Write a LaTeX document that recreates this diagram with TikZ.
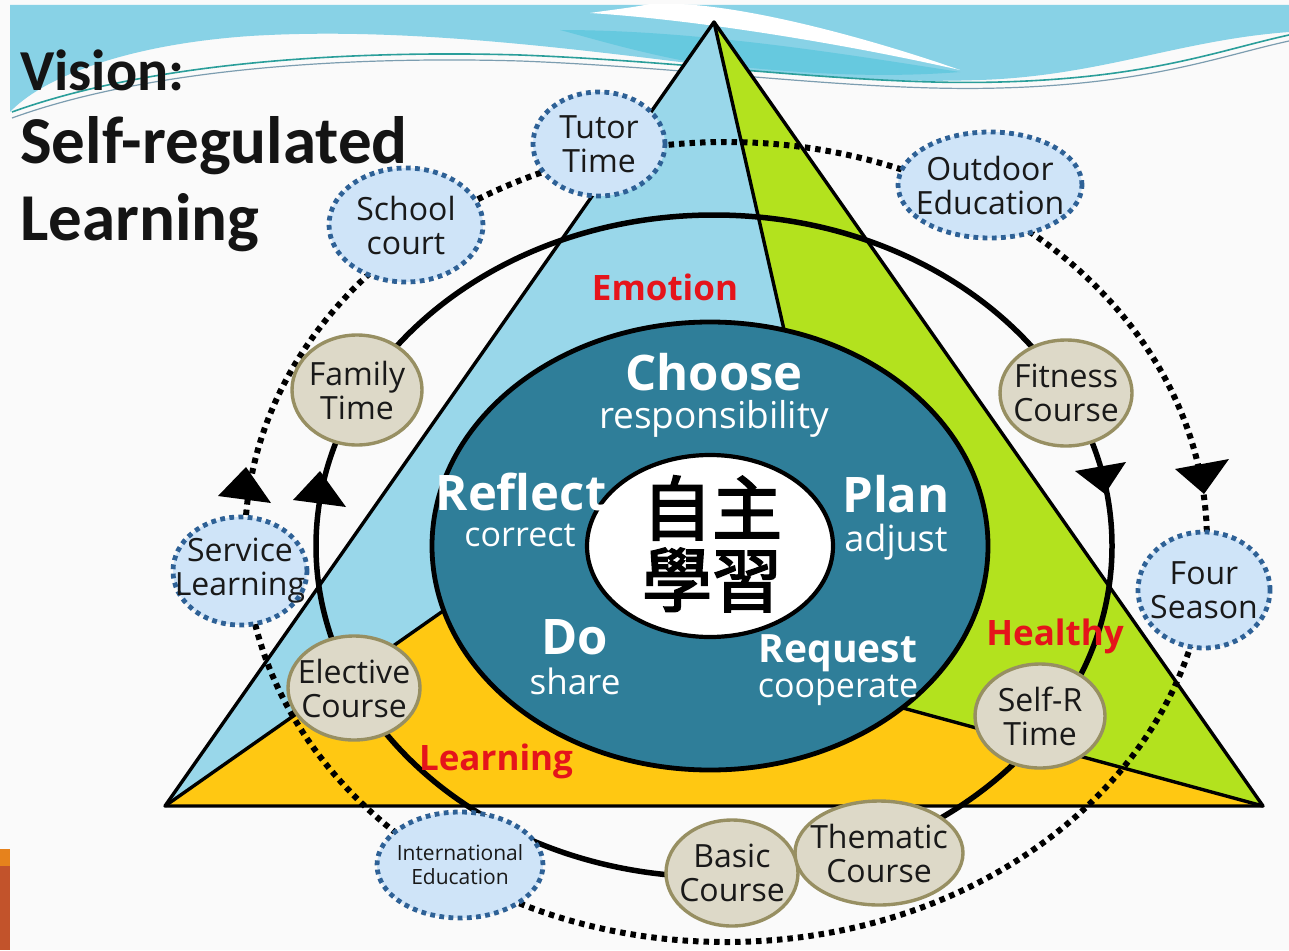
\documentclass[tikz,border=0pt]{standalone}
\usepackage{fontspec}
\setmainfont{Open Sans}
\newfontfamily\titlefont{Carlito}
\newfontfamily\cjkfont[FakeBold=2.6]{Noto Sans CJK TC}
\usetikzlibrary{shapes.geometric}
\definecolor{bgwhite}{HTML}{FAFAFA}
\definecolor{waveblue}{HTML}{88D2E6}
\definecolor{wavecyan}{HTML}{66C9DF}
\definecolor{waveline}{HTML}{2A9E9A}
\definecolor{wavegrey}{HTML}{7C9DB0}
\definecolor{triblue}{HTML}{99D7EA}
\definecolor{trigreen}{HTML}{B3E21E}
\definecolor{triyellow}{HTML}{FFC812}
\definecolor{darkteal}{HTML}{2F7E99}
\definecolor{nodeblue}{HTML}{CFE4F8}
\definecolor{dotblue}{HTML}{2E6196}
\definecolor{beige}{HTML}{DDD9C8}
\definecolor{olive}{HTML}{978F62}
\definecolor{redtxt}{HTML}{E5141B}
\definecolor{orangebar}{HTML}{E6821C}
\definecolor{brownbar}{HTML}{C2532B}
\begin{document}
\begin{tikzpicture}[x=1pt,y=-1pt,
  bluenode/.style={ellipse, fill=nodeblue, draw=dotblue, line width=4.8pt,
    dash pattern=on 4.8pt off 4.4pt, inner sep=0pt},
  beigenode/.style={ellipse, fill=beige, draw=olive, line width=3.4pt, inner sep=0pt},
  nodetext/.style={align=center, font=\fontsize{32}{34}\selectfont, text=black!90, inner sep=0pt},
  smalltext/.style={align=center, font=\fontsize{21}{24}\selectfont, text=black!90, inner sep=0pt},
  bigwhite/.style={anchor=base, text=white, font=\bfseries\fontsize{49}{50}\selectfont, inner sep=0pt},
  subwhite/.style={anchor=base, text=white, font=\fontsize{34}{36}\selectfont, inner sep=0pt},
  redlabel/.style={anchor=base, text=redtxt, font=\bfseries\fontsize{35}{36}\selectfont, inner sep=0pt},
  titletext/.style={anchor=base west, font=\titlefont\bfseries\fontsize{67}{70}\selectfont, text=black!92, inner sep=0pt},
  cjktext/.style={font=\cjkfont\fontsize{70}{72}\selectfont, inner sep=0pt},
  loopline/.style={line width=5.5pt, black},
  dotloop/.style={line width=6pt, black, dash pattern=on 5.5pt off 5pt},
  edge/.style={line width=3.4pt, black, line join=round}
]
\useasboundingbox (0,0) rectangle (1289,950);
\fill[bgwhite] (0,0) rectangle (1289,950);
% decorative waves
\fill[waveblue] (10,5) -- (1289,5) -- (1289,32) .. controls (1180,40) and (1100,76) .. (980,80)
  .. controls (860,84) and (760,72) .. (680,62) .. controls (520,42) and (380,28) .. (250,36)
  .. controls (120,45) and (40,80) .. (10,112) -- cycle;
\fill[wavecyan] (560,30) .. controls (700,30) and (850,55) .. (960,72)
  .. controls (860,80) and (760,70) .. (680,60) .. controls (630,50) and (590,38) .. (560,30) -- cycle;
\fill[white] (590,13) .. controls (700,20) and (850,45) .. (960,70)
  .. controls (880,42) and (760,8) .. (680,4) -- (650,4) .. controls (630,8) and (610,10) .. (590,13) -- cycle;
\draw[waveline, line width=1.6pt] (12,112) .. controls (150,62) and (350,50) .. (520,55)
  .. controls (700,62) and (860,86) .. (1000,82) .. controls (1150,78) and (1220,50) .. (1289,35);
\draw[wavegrey, line width=1.2pt] (12,118) .. controls (150,68) and (350,56) .. (520,61)
  .. controls (700,68) and (860,92) .. (1000,88) .. controls (1150,84) and (1220,56) .. (1289,41);
% frame bar
\fill[orangebar] (0,849) rectangle (10,866);
\fill[brownbar] (0,866) rectangle (10,950);
% triangle
\coordinate (apex) at (714,22);
\coordinate (bl) at (165,806);
\coordinate (br) at (1263,806);
\coordinate (ctr) at (710,546);
\coordinate (gin) at (800,400);
\coordinate (yin) at (520,557);
\coordinate (rin) at (800,680);
\fill[triblue] (apex) -- (bl) -- (br) -- cycle;
\fill[trigreen] (apex) -- (gin) -- (ctr) -- (rin) -- (br) -- cycle;
\fill[triyellow] (bl) -- (yin) -- (ctr) -- (rin) -- (br) -- cycle;
\draw[edge] (apex) -- (gin);
\draw[edge] (bl) -- (yin);
\draw[edge] (br) -- (rin);
\draw[edge] (apex) -- (bl) -- (br) -- cycle;
% inner discs
\filldraw[fill=darkteal, draw=black, line width=4.8pt] (ctr) ellipse [x radius=278pt, y radius=224pt];
\filldraw[fill=white, draw=black, line width=4.2pt] (710,546) ellipse [x radius=123pt, y radius=91pt];
% loops
\coordinate (lc) at (714,546);
\draw[loopline] (lc) ellipse [x radius=398pt, y radius=331pt];
\coordinate (dc) at (726,542);
\draw[dotloop] (dc) ellipse [x radius=481pt, y radius=400pt];
% arrow heads
\fill (320,471) -- (293,500) -- (346,507) -- cycle;
\fill (246,467) -- (218,496) -- (271,503) -- cycle;
\fill (1105,494) -- (1075,471) -- (1126,462) -- cycle;
\fill (1204,494) -- (1175,469) -- (1229,459) -- cycle;
% blue dotted nodes
\node[bluenode, minimum width=132pt, minimum height=104pt] (tutor) at (599,144) {};
\node[nodetext] at (tutor) {Tutor\\Time};
\node[bluenode, minimum width=154pt, minimum height=114pt] (school) at (406,225) {};
\node[nodetext] at (school) {School\\court};
\node[bluenode, minimum width=184pt, minimum height=106pt] (outdoor) at (990,185) {};
\node[nodetext] at (outdoor) {Outdoor\\Education};
\node[bluenode, minimum width=132pt, minimum height=116pt] (four) at (1204,590) {};
\node[nodetext] at (four) {Four\\Season};
\node[bluenode, minimum width=134pt, minimum height=108pt] (service) at (240,571) {};
\node[nodetext] at (service) {Service\\Learning};
\node[bluenode, minimum width=166pt, minimum height=106pt] (intl) at (460,865) {};
\node[smalltext] at (intl) {International\\Education};
% beige nodes
\node[beigenode, minimum width=130pt, minimum height=110pt] (family) at (357,390) {};
\node[nodetext] at (family) {Family\\Time};
\node[beigenode, minimum width=132pt, minimum height=106pt] (fitness) at (1066,393) {};
\node[nodetext] at (fitness) {Fitness\\Course};
\node[beigenode, minimum width=132pt, minimum height=104pt] (elective) at (354,688) {};
\node[nodetext] at (elective) {Elective\\Course};
\node[beigenode, minimum width=130pt, minimum height=104pt] (selfr) at (1040,716) {};
\node[nodetext] at (selfr) {Self-R\\Time};
\node[beigenode, minimum width=132pt, minimum height=106pt] (basic) at (732,873) {};
\node[nodetext] at (basic) {Basic\\Course};
\node[beigenode, minimum width=168pt, minimum height=104pt] (thematic) at (879,853) {};
\node[nodetext] at (thematic) {Thematic\\Course};
% centre texts
\node[cjktext] (zz1) at (712,508) {自主};
\node[cjktext] (zz2) at (712,580) {學習};
\node[bigwhite] (choose) at (714,390) {Choose};
\node[subwhite, font=\fontsize{37}{38}\selectfont] (resp) at (714,428) {responsibility};
\node[bigwhite] (reflect) at (521,510) {Reflect};
\node[subwhite] (correct) at (520,546) {correct};
\node[bigwhite] (plan) at (896,512) {Plan};
\node[subwhite, font=\fontsize{36}{38}\selectfont] (adjust) at (896,551) {adjust};
\node[bigwhite] (do) at (575,654) {Do};
\node[subwhite, font=\fontsize{35}{38}\selectfont] (share) at (575,694) {share};
\node[bigwhite, font=\bfseries\fontsize{39}{40}\selectfont] (request) at (838,662) {Request};
\node[subwhite] (coop) at (838,697) {cooperate};
% red labels
\node[redlabel] (emotion) at (665,300) {Emotion};
\node[redlabel] (learnlbl) at (496,770) {Learning};
\node[redlabel] (healthy) at (1055,645) {Healthy};
% title
\node[titletext, font=\titlefont\bfseries\fontsize{58}{60}\selectfont] (vision) at (20,90) {Vision:};
\node[titletext] (self) at (20,163) {Self-regulated};
\node[titletext] (learning) at (20,240) {Learning};
\end{tikzpicture}
\end{document}
